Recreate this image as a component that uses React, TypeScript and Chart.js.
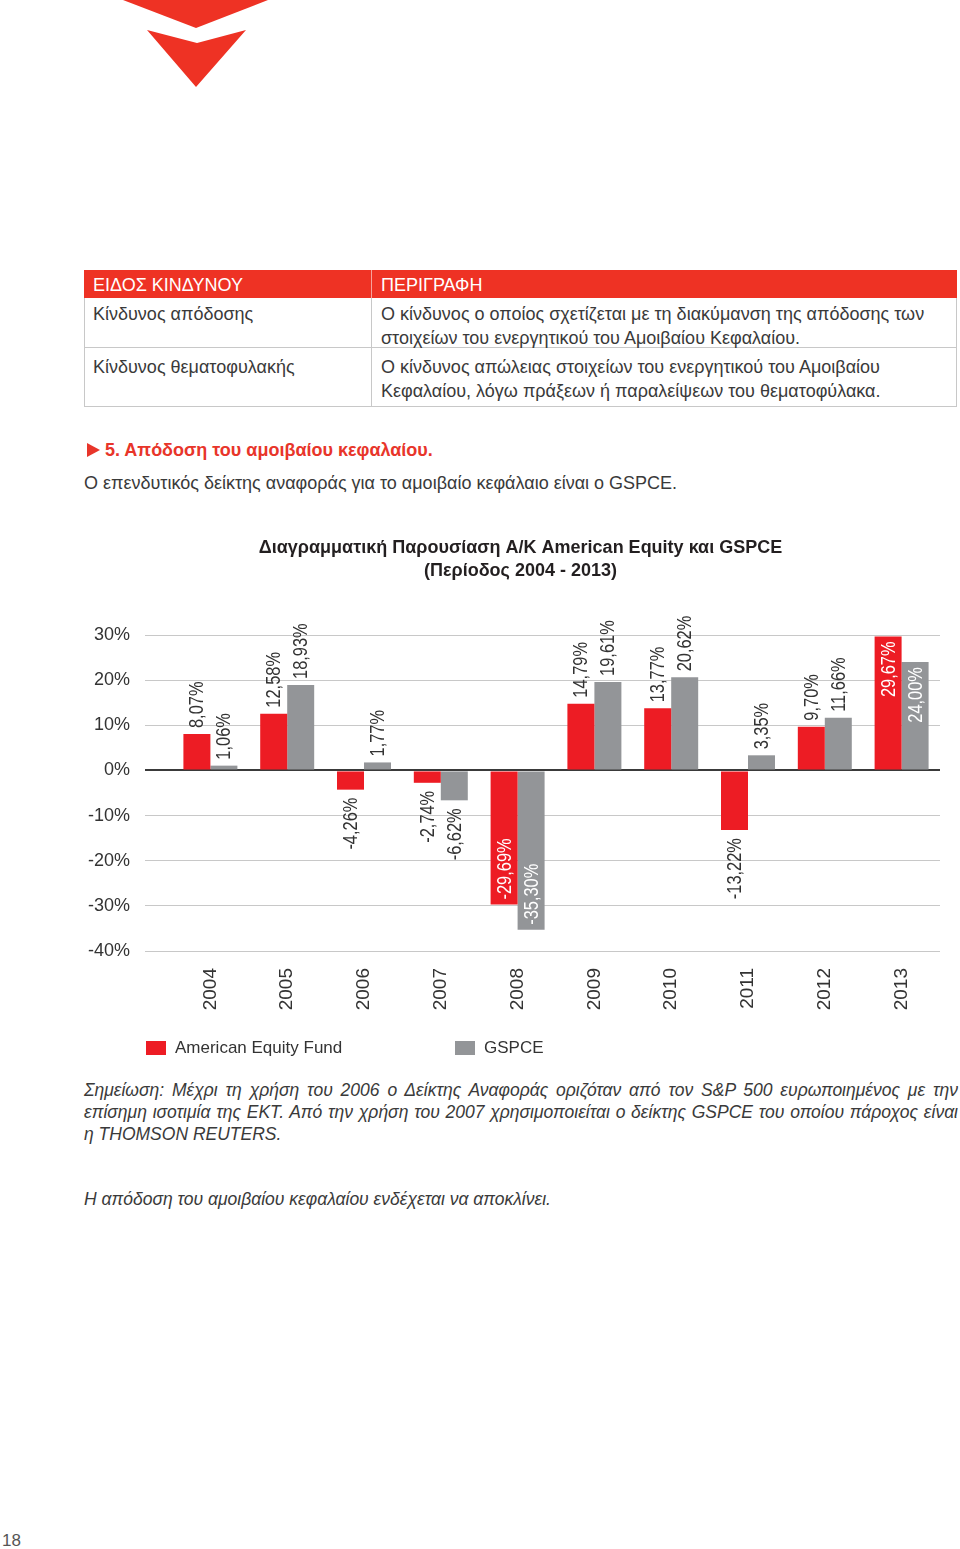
import React, { useEffect, useRef } from "react";
import { Chart, registerables } from "chart.js";

Chart.register(...registerables);

// ---- data ----
const years = ["2004", "2005", "2006", "2007", "2008", "2009", "2010", "2011", "2012", "2013"];
const fundReturns = [8.07, 12.58, -4.26, -2.74, -29.69, 14.79, 13.77, -13.22, 9.7, 29.67];
const gspceReturns = [1.06, 18.93, 1.77, -6.62, -35.3, 19.61, 20.62, 3.35, 11.66, 24.0];
const seriesNames = ["American Equity Fund", "GSPCE"];
const yMin = -40;
const yMax = 30;
const yStep = 10;
const titleLines = [
  "Διαγραμματική Παρουσίαση A/K American Equity και GSPCE",
  "(Περίοδος 2004 - 2013)",
];

const FONT = '"Liberation Sans", Arial, Helvetica, sans-serif';
const RED = "#ed1c24";
const GRAY = "#939598";
const TEXT = "#3a3a3a";

const fmt = (v: number) => v.toFixed(2).replace(".", ",") + "%";

const barLabelsPlugin = {
  id: "barLabels",
  afterDatasetsDraw(chart: any) {
    const ctx = chart.ctx;
    chart.data.datasets.forEach((ds: any, di: number) => {
      const meta = chart.getDatasetMeta(di);
      meta.data.forEach((bar: any, i: number) => {
        const v = ds.data[i] as number;
        const inside = Math.abs(v) >= 24;
        const pos = v >= 0;
        let y: number;
        let align: CanvasTextAlign;
        if (inside) {
          y = pos ? bar.y + 5 : bar.y - 5;
          align = pos ? "right" : "left";
        } else {
          y = pos ? bar.y - 6 : bar.y + 8;
          align = pos ? "left" : "right";
        }
        ctx.save();
        ctx.translate(bar.x, y);
        ctx.rotate(-Math.PI / 2);
        ctx.scale(0.82, 1);
        ctx.font = `20px ${FONT}`;
        ctx.fillStyle = inside ? "#ffffff" : "#333333";
        ctx.textAlign = align;
        ctx.textBaseline = "middle";
        ctx.fillText(fmt(v), 0, 1);
        ctx.restore();
      });
    });
  },
};

const legendPlugin = {
  id: "customLegend",
  afterDraw(chart: any) {
    const ctx = chart.ctx;
    const xs = [66, 375];
    const top = 511;
    chart.data.datasets.forEach((ds: any, i: number) => {
      ctx.save();
      ctx.fillStyle = ds.backgroundColor;
      ctx.fillRect(xs[i], top, 20, 14);
      ctx.font = `17px ${FONT}`;
      ctx.fillStyle = "#333333";
      ctx.textAlign = "left";
      ctx.textBaseline = "middle";
      ctx.fillText(ds.label, xs[i] + 29, top + 7.5);
      ctx.restore();
    });
  },
};

function BarChart() {
  const ref = useRef<HTMLCanvasElement | null>(null);
  useEffect(() => {
    if (!ref.current) return;
    const chart = new Chart(ref.current, {
      type: "bar",
      data: {
        labels: years,
        datasets: [
          { label: seriesNames[0], data: fundReturns, backgroundColor: RED, borderWidth: 0, yAxisID: "y" },
          { label: seriesNames[1], data: gspceReturns, backgroundColor: GRAY, borderWidth: 0, yAxisID: "y" },
        ],
      },
      options: {
        animation: false,
        responsive: false,
        devicePixelRatio: 1,
        layout: { padding: { left: 5, right: 0, top: 0, bottom: 0 } },
        datasets: { bar: { categoryPercentage: 0.703, barPercentage: 1.0 } },
        plugins: {
          legend: { display: false },
          tooltip: { enabled: false },
          title: {
            display: true,
            text: titleLines,
            color: "#231f20",
            font: { family: FONT, size: 18, weight: "bold", lineHeight: 23 / 18 },
            padding: { top: 6.5, bottom: 52.5 },
          },
        },
        scales: {
          x: {
            grid: { display: false, drawTicks: false },
            border: { display: false },
            ticks: {
              minRotation: 90,
              maxRotation: 90,
              autoSkip: false,
              padding: 17,
              color: "#333333",
              font: { family: FONT, size: 19 },
            },
            afterFit: (s: any) => {
              s.height = 119;
            },
          },
          y: {
            min: yMin,
            max: yMax,
            border: { display: false },
            grid: {
              tickLength: 27,
              color: (c: any) => (c.tick && c.tick.value === 0 ? "#3a3a3a" : "#c8c8c8"),
              lineWidth: (c: any) => (c.tick && c.tick.value === 0 ? 2 : 1),
            },
            ticks: {
              stepSize: yStep,
              padding: 15,
              color: "#333333",
              font: { family: FONT, size: 18 },
              callback: (v: any) => `${v}%`,
            },
            afterFit: (s: any) => {
              s.width = 87;
            },
          },
          yRight: {
            type: "linear",
            position: "right",
            display: true,
            grid: { display: false, drawTicks: false },
            border: { display: false },
            ticks: { display: false },
            afterFit: (s: any) => {
              s.width = 16;
            },
          },
        },
      },
      plugins: [barLabelsPlugin, legendPlugin],
    } as any);
    return () => chart.destroy();
  }, []);
  return (
    <canvas
      ref={ref}
      width={876}
      height={540}
      style={{ position: "absolute", left: 80, top: 530, width: 876, height: 540 }}
    />
  );
}

const abs = (l: number, t: number, extra: React.CSSProperties = {}): React.CSSProperties => ({
  position: "absolute",
  left: l,
  top: t,
  ...extra,
});

export default function App() {
  const cellText: React.CSSProperties = { fontSize: 18, lineHeight: "24px", whiteSpace: "nowrap" };
  const noteLine: React.CSSProperties = {
    width: 874,
    fontSize: 17.5,
    lineHeight: "22px",
    fontStyle: "italic",
    whiteSpace: "nowrap",
  };
  const justified: React.CSSProperties = {
    ...noteLine,
    whiteSpace: "normal",
    textAlign: "justify",
    textAlignLast: "justify",
  };
  return (
    <div
      style={{
        position: "absolute",
        left: 0,
        top: 0,
        width: 960,
        height: 1549,
        background: "#ffffff",
        fontFamily: FONT,
        color: TEXT,
        overflow: "hidden",
      }}
    >
      <svg width={960} height={100} style={abs(0, 0)}>
        <polygon points="123,0 268,0 196,28" fill="#ee3224" />
        <polygon points="147,30 197,43 246,30 196,87" fill="#ee3224" />
      </svg>

      {/* table */}
      <div style={abs(84, 270, { width: 873, height: 28, background: "#ee3224" })} />
      <div style={abs(371, 270, { width: 1, height: 28, background: "rgba(255,255,255,0.55)" })} />
      <div style={abs(93, 273, { ...cellText, color: "#ffffff" })}>ΕΙΔΟΣ ΚΙΝΔΥΝΟΥ</div>
      <div style={abs(381, 273, { ...cellText, color: "#ffffff" })}>ΠΕΡΙΓΡΑΦΗ</div>

      <div
        style={abs(84, 298, {
          width: 871,
          height: 49,
          borderLeft: "1px solid #c8c8c8",
          borderRight: "1px solid #c8c8c8",
          borderBottom: "1px solid #c8c8c8",
        })}
      />
      <div
        style={abs(84, 348, {
          width: 871,
          height: 58,
          borderLeft: "1px solid #c8c8c8",
          borderRight: "1px solid #c8c8c8",
          borderBottom: "1px solid #c8c8c8",
        })}
      />
      <div style={abs(371, 298, { width: 1, height: 109, background: "#c8c8c8" })} />

      <div style={abs(93, 302, cellText)}>Κίνδυνος απόδοσης</div>
      <div style={abs(381, 302, cellText)}>
        Ο κίνδυνος ο οποίος σχετίζεται με τη διακύμανση της απόδοσης των
        <br />
        στοιχείων του ενεργητικού του Αμοιβαίου Κεφαλαίου.
      </div>
      <div style={abs(93, 355, cellText)}>Κίνδυνος θεματοφυλακής</div>
      <div style={abs(381, 355, cellText)}>
        Ο κίνδυνος απώλειας στοιχείων του ενεργητικού του Αμοιβαίου
        <br />
        Κεφαλαίου, λόγω πράξεων ή παραλείψεων του θεματοφύλακα.
      </div>

      {/* section heading */}
      <svg width={16} height={16} style={abs(86, 442)}>
        <polygon points="1,1 14,8 1,15" fill="#e8352a" />
      </svg>
      <div
        style={abs(105, 438, {
          fontSize: 18,
          lineHeight: "24px",
          fontWeight: "bold",
          color: "#e8352a",
          whiteSpace: "nowrap",
        })}
      >
        5. Απόδοση του αμοιβαίου κεφαλαίου.
      </div>
      <div style={abs(84, 471, cellText)}>
        Ο επενδυτικός δείκτης αναφοράς για το αμοιβαίο κεφάλαιο είναι ο GSPCE.
      </div>

      <BarChart />

      {/* notes */}
      <div style={abs(84, 1079, justified)}>
        Σημείωση: Μέχρι τη χρήση του 2006 ο Δείκτης Αναφοράς οριζόταν από τον S&amp;P 500 ευρωποιημένος με την
      </div>
      <div style={abs(84, 1101, justified)}>
        επίσημη ισοτιμία της ΕΚΤ. Από την χρήση του 2007 χρησιμοποιείται ο δείκτης GSPCE του οποίου πάροχος είναι
      </div>
      <div style={abs(84, 1123, noteLine)}>η THOMSON REUTERS.</div>
      <div style={abs(84, 1188, noteLine)}>Η απόδοση του αμοιβαίου κεφαλαίου ενδέχεται να αποκλίνει.</div>

      <div style={abs(2, 1530, { fontSize: 17, lineHeight: "22px", color: "#555555" })}>18</div>
    </div>
  );
}
